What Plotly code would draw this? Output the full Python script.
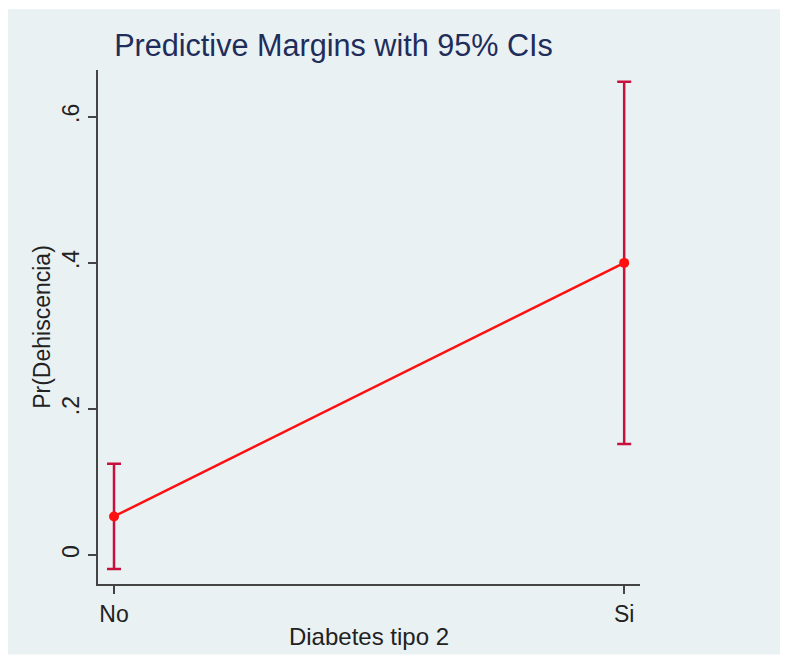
import plotly.graph_objects as go

categories = ["No", "Si"]
margins = [0.053, 0.400]
ci_low = [-0.019, 0.152]
ci_high = [0.125, 0.648]
y_tickvals = [0, 0.2, 0.4, 0.6]
y_ticktext = ["0", ".2", ".4", ".6"]

err_plus = [h - m for h, m in zip(ci_high, margins)]
err_minus = [m - l for m, l in zip(margins, ci_low)]

W, H = 780, 650
L, R, T, B = 90, 148, 62, 71
pw, ph = W - L - R, H - T - B

fig = go.Figure()
fig.add_trace(go.Scatter(
    x=categories, y=margins, mode="markers",
    marker=dict(size=0.1, color="rgba(0,0,0,0)"),
    error_y=dict(type="data", symmetric=False, array=err_plus, arrayminus=err_minus,
                 color="#C8103C", thickness=2.5, width=7),
    showlegend=False, hoverinfo="skip"))
fig.add_trace(go.Scatter(
    x=categories, y=margins, mode="lines+markers",
    line=dict(color="#FF1010", width=2.5),
    marker=dict(color="#FF1010", size=10),
    showlegend=False))

fig.add_shape(type="rect", xref="paper", yref="paper", layer="below",
              x0=-L / pw, x1=(W - L) / pw, y0=-B / ph, y1=(H - B - 1) / ph,
              fillcolor="#EAF1F3", line=dict(width=0))

fig.update_layout(
    width=W, height=H,
    paper_bgcolor="white", plot_bgcolor="white",
    margin=dict(l=L, r=R, t=T, b=B),
    font=dict(family="Liberation Sans, Arial, sans-serif", color="#222222"),
    title=dict(text="Predictive Margins with 95% CIs", x=325.5 / W, xanchor="center",
               y=1 - 37 / H, yanchor="middle",
               font=dict(size=30.6, color="#1E2D5A")),
    xaxis=dict(type="category", range=[-0.0314, 1.031], showgrid=False,
               showline=True, linecolor="#444444", linewidth=2,
               ticks="outside", ticklen=8, tickwidth=1.5, tickcolor="#444444",
               tickfont=dict(size=23), mirror=False,
               title=dict(text="Diabetes tipo 2", font=dict(size=24), standoff=3)),
    yaxis=dict(range=[-0.0395, 0.664], tickvals=y_tickvals, ticktext=y_ticktext,
               tickangle=-90, tickfont=dict(size=23),
               showgrid=True, gridcolor="#E8F1F3", gridwidth=1.5, zeroline=False,
               showline=True, linecolor="#444444", linewidth=2,
               ticks="outside", ticklen=8, tickwidth=1.5, tickcolor="#444444",
               title=dict(text="Pr(Dehiscencia)", font=dict(size=23), standoff=1)),
)

fig.write_html("out.html")
